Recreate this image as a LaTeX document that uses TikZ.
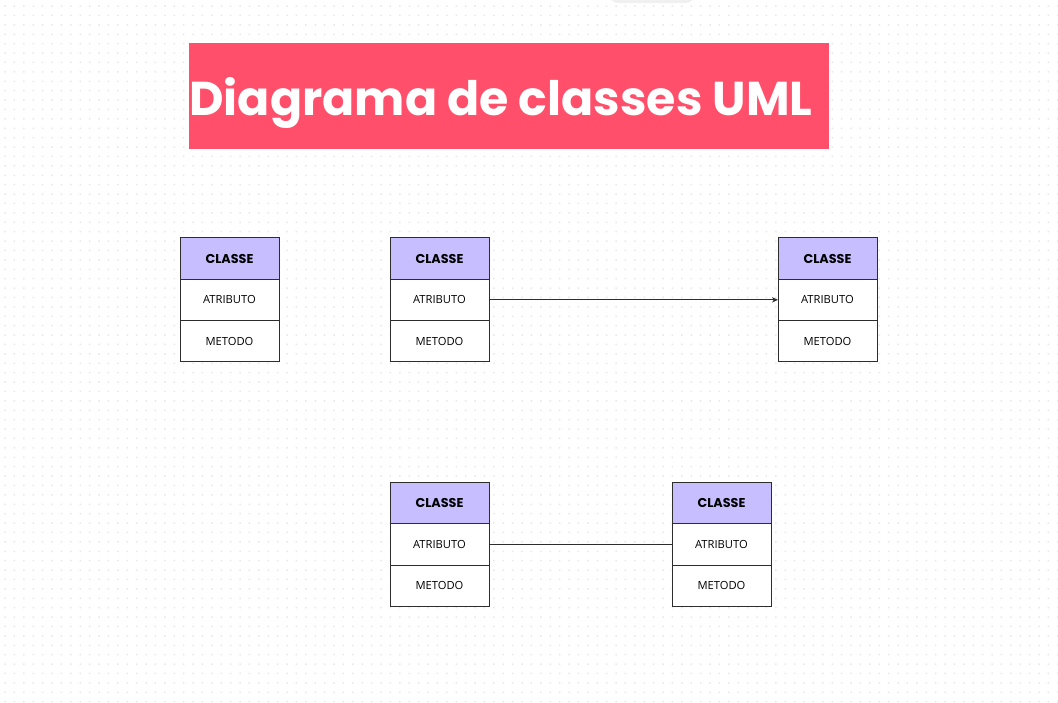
\documentclass[tikz,border=0pt]{standalone}
\usepackage{fontspec}
\setmainfont{Open Sans}
\newfontfamily\titlefont{Poppins}
\definecolor{titlered}{RGB}{255, 79, 106}
\definecolor{headlilac}{RGB}{199, 190, 255}
\definecolor{boxline}{RGB}{45, 45, 45}
\definecolor{griddot}{RGB}{232, 232, 234}
\usetikzlibrary{positioning, arrows.meta}

\begin{document}
\begin{tikzpicture}[
  x=0.75pt, y=-0.75pt,
  cell/.style={draw=boxline, line width=0.6pt, minimum width=74.3pt, minimum height=31pt, outer sep=0pt, inner sep=0pt, font=\fontsize{8.4}{10}\selectfont},
  head/.style={cell, fill=headlilac, font=\titlefont\bfseries\fontsize{9.6}{11}\selectfont},
  row/.style={cell, fill=white},
  lnk/.style={line width=0.6pt, boxline},
]
  % page and dotted canvas
  \useasboundingbox (0,0) rectangle (1058,703);
  \fill[white] (0,0) rectangle (1058,703);
  \foreach \i in {0,...,112} {
    \fill[griddot] \foreach \j in {0,...,74} { (4.3+9.4*\i, 5.3+9.4*\j) rectangle ++(1.5,1.5) };
  }
  \fill[gray!12, rounded corners=6] (610,-20) rectangle (694,3);
  \fill[white, rounded corners=6] (613,-20) rectangle (691,0);

  % title
  \fill[titlered] (189,43) rectangle (829,149);
  \node[anchor=west, text=white, inner sep=0pt, font=\titlefont\bfseries\fontsize{35.6}{40}\selectfont] (title) at (189,103) {Diagrama de classes UML};

  % classes
  \node[head] (c1h) at (229.5,258.5) {CLASSE};
  \node[row, below=0pt of c1h] (c1a) {ATRIBUTO};
  \node[row, below=0pt of c1a] (c1m) {METODO};

  \node[head] (c2h) at (439.5,258.5) {CLASSE};
  \node[row, below=0pt of c2h] (c2a) {ATRIBUTO};
  \node[row, below=0pt of c2a] (c2m) {METODO};

  \node[head] (c3h) at (827.5,258.5) {CLASSE};
  \node[row, below=0pt of c3h] (c3a) {ATRIBUTO};
  \node[row, below=0pt of c3a] (c3m) {METODO};

  \node[head] (c4h) at (439.5,503) {CLASSE};
  \node[row, below=0pt of c4h] (c4a) {ATRIBUTO};
  \node[row, below=0pt of c4a] (c4m) {METODO};

  \node[head] (c5h) at (721.5,503) {CLASSE};
  \node[row, below=0pt of c5h] (c5a) {ATRIBUTO};
  \node[row, below=0pt of c5a] (c5m) {METODO};

  % links
  \draw[lnk, -{Stealth[length=4.5pt, width=4pt]}] (c2a) -- (c3a);
  \draw[lnk] (c4a) -- (c5a);
\end{tikzpicture}
\end{document}
